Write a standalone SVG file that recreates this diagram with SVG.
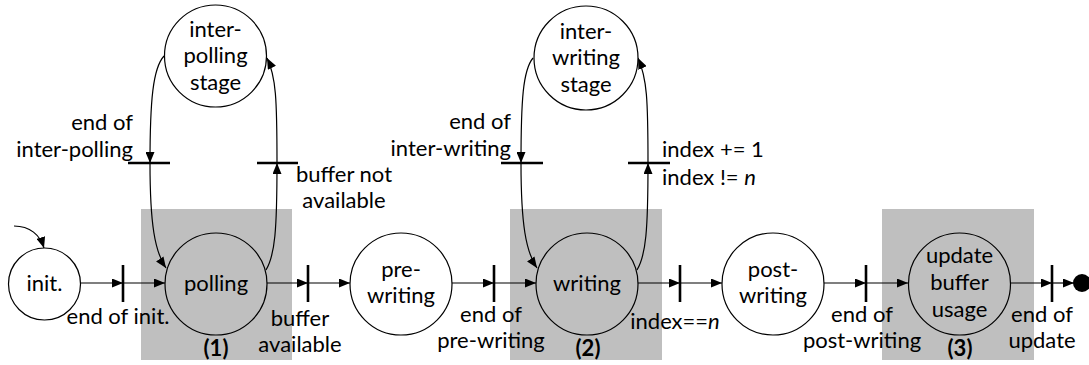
<svg xmlns="http://www.w3.org/2000/svg" width="1089" height="365" viewBox="0 0 1089 365">
<defs>
<marker id="ah" markerUnits="userSpaceOnUse" markerWidth="11" markerHeight="9" refX="11" refY="4.5" orient="auto"><path d="M0,0 L11,4.5 L0,9 z" fill="#000"/></marker>
<style>
.st{fill:#fff;stroke:#000;stroke-width:1.2}
.sh{fill:#bfbfbf}
text{font-family:Lato,"Liberation Sans",sans-serif;font-size:22px;fill:#000}
.c{text-anchor:middle}
.r{text-anchor:end}
.b{font-weight:bold}
.e{fill:none;stroke:#000;stroke-width:1.2;marker-end:url(#ah)}
.bar{stroke:#000;stroke-width:2.6}
</style>
</defs>
<g id="regions">
<rect class="sh" x="141" y="209" width="151" height="151"/>
<rect class="sh" x="510" y="209" width="152" height="151"/>
<rect class="sh" x="882" y="209" width="152" height="151"/>
<text class="c b" x="216" y="356">(1)</text>
<text class="c b" x="588" y="356">(2)</text>
<text class="c b" x="960" y="356">(3)</text>
</g>
<g id="connectors">
<path class="e" d="M14,226 C30,226 40,235 44,248"/>
<path class="e" d="M81,283 L123,283"/>
<path class="e" d="M123,283 L165,283"/>
<path class="e" d="M267,283 L308,283"/>
<path class="e" d="M308,283 L350,283"/>
<path class="e" d="M452,283 L494,283"/>
<path class="e" d="M494,283 L536,283"/>
<path class="e" d="M638,283 L680,283"/>
<path class="e" d="M680,283 L722,283"/>
<path class="e" d="M824,283 L866,283"/>
<path class="e" d="M866,283 L908,283"/>
<path class="e" d="M1011,283 L1052,283"/>
<path class="e" d="M1052,283 L1074,283"/>
<path class="e" d="M164,56 C153,68 150,100 150,163"/>
<path class="e" d="M150,163 C150,225 155,252 166,268"/>
<path class="e" d="M266,270 C275,255 277,230 277,163"/>
<path class="e" d="M277,163 C277,100 276,76 267,58"/>
<path class="e" d="M533,58 C523,70 521,100 521,163"/>
<path class="e" d="M521,163 C521,225 526,252 537,268"/>
<path class="e" d="M637,270 C646,255 648,230 648,163"/>
<path class="e" d="M648,163 C648,100 647,78 638,58"/>
<line class="bar" x1="123" y1="265" x2="123" y2="302"/>
<line class="bar" x1="308" y1="265" x2="308" y2="302"/>
<line class="bar" x1="494" y1="265" x2="494" y2="302"/>
<line class="bar" x1="680" y1="265" x2="680" y2="302"/>
<line class="bar" x1="866" y1="265" x2="866" y2="302"/>
<line class="bar" x1="1052" y1="265" x2="1052" y2="302"/>
<line class="bar" x1="128" y1="163" x2="170" y2="163"/>
<line class="bar" x1="257" y1="163" x2="298" y2="163"/>
<line class="bar" x1="501" y1="163" x2="543" y2="163"/>
<line class="bar" x1="628" y1="163" x2="670" y2="163"/>
<text class="c" x="118" y="324">end of init.</text>
<text class="c" x="300" y="326">buffer</text>
<text class="c" x="300" y="352">available</text>
<text class="c" x="491" y="322">end of</text>
<text class="c" x="491" y="348">pre-writing</text>
<text class="c" x="675" y="329">index==<tspan font-style="italic">n</tspan></text>
<text class="c" x="862" y="322">end of</text>
<text class="c" x="862" y="348">post-writing</text>
<text class="c" x="1042" y="322">end of</text>
<text class="c" x="1042" y="348">update</text>
<text class="r" x="133" y="130">end of</text>
<text class="r" x="133" y="157">inter-polling</text>
<text class="c" x="344" y="182">buffer not</text>
<text class="c" x="344" y="208">available</text>
<text class="r" x="511" y="129">end of</text>
<text class="r" x="511" y="156">inter-writing</text>
<text x="662" y="157">index += 1</text>
<text x="662" y="185">index != <tspan font-style="italic">n</tspan></text>
</g>
<g id="init"><circle class="st" cx="44.5" cy="284" r="36"/><text class="c" x="44.5" y="291">init.</text></g>
<g id="polling"><circle class="st" cx="216" cy="284" r="51" fill-opacity="0"/><text class="c" x="216" y="291">polling</text></g>
<g id="pre-writing"><circle class="st" cx="401" cy="284" r="51"/><text class="c" x="401" y="277">pre-</text><text class="c" x="401" y="303">writing</text></g>
<g id="writing"><circle class="st" cx="587" cy="284" r="51" fill-opacity="0"/><text class="c" x="587" y="291">writing</text></g>
<g id="post-writing"><circle class="st" cx="773" cy="284" r="51"/><text class="c" x="773" y="277">post-</text><text class="c" x="773" y="303">writing</text></g>
<g id="update"><circle class="st" cx="959.5" cy="284" r="51" fill-opacity="0"/><text class="c" x="959.5" y="263">update</text><text class="c" x="959.5" y="290">buffer</text><text class="c" x="959.5" y="317">usage</text></g>
<g id="inter-polling"><circle class="st" cx="215.5" cy="56" r="51"/><text class="c" x="215.5" y="37">inter-</text><text class="c" x="215.5" y="63">polling</text><text class="c" x="215.5" y="90">stage</text></g>
<g id="inter-writing"><circle class="st" cx="586" cy="58" r="52"/><text class="c" x="586" y="39">inter-</text><text class="c" x="586" y="65">writing</text><text class="c" x="586" y="92">stage</text></g>
<g id="final"><circle cx="1082" cy="283" r="9" fill="#000"/></g>
</svg>
